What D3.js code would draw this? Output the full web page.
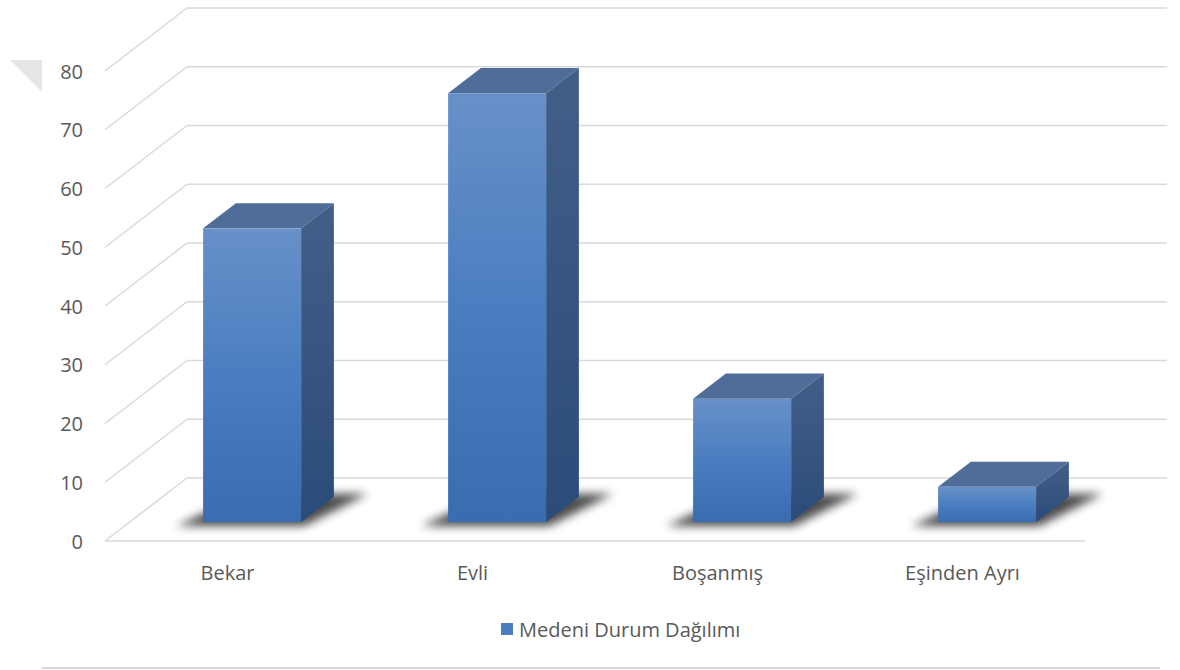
<!DOCTYPE html>
<html>
<head>
<meta charset="utf-8">
<script src="https://cdn.jsdelivr.net/npm/d3@7"></script>
<style>
  body { margin: 0; background: #fff; }
  svg { display: block; font-family: "Open Sans", sans-serif; }
</style>
</head>
<body>
<div class="chart"></div>
<script>
// ======================================
// data
// ======================================
var categories = ['Bekar', 'Evli', 'Boşanmış', 'Eşinden Ayrı'];
var values = [50, 73, 21, 6];
var yTicks = [0, 10, 20, 30, 40, 50, 60, 70, 80];
var seriesName = 'Medeni Durum Dağılımı';

// ======================================
// layout
// ======================================
var W = 1180, H = 670;
var DX = 82, DY = -63;   // depth offset of the floor (front -> back)

var svg = d3.select('.chart')
   .append('svg')
   .attr('width', W)
   .attr('height', H);

var x = d3.scaleBand().domain(categories).range([105, 1085]).paddingInner(0).paddingOuter(0);
var y = d3.scaleLinear().domain([0, 80]).range([541, 71]);

// project (x, value, depth 0..1) onto the screen
function proj(px, v, z) {
   return [px + z * DX, y(v) + z * DY];
}

var defs = svg.append('defs');

var gFront = defs.append('linearGradient').attr('id', 'gFront')
   .attr('x1', 0).attr('y1', 0).attr('x2', 0).attr('y2', 1);
gFront.append('stop').attr('offset', '0%').attr('stop-color', '#6890c8');
gFront.append('stop').attr('offset', '50%').attr('stop-color', '#4a7ec0');
gFront.append('stop').attr('offset', '100%').attr('stop-color', '#3a6cb0');

var gSide = defs.append('linearGradient').attr('id', 'gSide')
   .attr('x1', 0).attr('y1', 0).attr('x2', 0).attr('y2', 1);
gSide.append('stop').attr('offset', '0%').attr('stop-color', '#425f88');
gSide.append('stop').attr('offset', '100%').attr('stop-color', '#2b4b7a');

defs.append('filter').attr('id', 'blur')
   .attr('x', '-50%').attr('y', '-50%').attr('width', '200%').attr('height', '200%')
   .append('feGaussianBlur').attr('stdDeviation', 5);

// ======================================
// top-left corner mark and bottom border
// ======================================
svg.append('polygon')
   .attr('points', '10,60 42,60 42,92')
   .attr('fill', '#e6e6e6');

svg.append('line')
   .attr('x1', 42).attr('x2', 1160)
   .attr('y1', 668).attr('y2', 668)
   .attr('stroke', '#d9d9d9').attr('stroke-width', 2);

// ======================================
// walls: gridlines
// ======================================
var x0 = x.range()[0], x1 = x.range()[1];

var grid = svg.append('g').attr('stroke', '#d9d9d9').attr('stroke-width', 1.5).attr('fill', 'none');

grid.selectAll('.back')
   .data(yTicks)
   .enter()
   .append('line')
      .attr('x1', function(d){ return proj(x0, d, 1)[0]; })
      .attr('y1', function(d){ return proj(x0, d, 1)[1]; })
      .attr('x2', function(d){ return proj(x1, d, 1)[0]; })
      .attr('y2', function(d){ return proj(x1, d, 1)[1]; });

grid.selectAll('.side')
   .data(yTicks)
   .enter()
   .append('line')
      .attr('x1', function(d){ return proj(x0, d, 0)[0]; })
      .attr('y1', function(d){ return proj(x0, d, 0)[1]; })
      .attr('x2', function(d){ return proj(x0, d, 1)[0]; })
      .attr('y2', function(d){ return proj(x0, d, 1)[1]; });

// floor front edge
grid.append('line')
   .attr('x1', proj(x0, 0, 0)[0]).attr('y1', proj(x0, 0, 0)[1])
   .attr('x2', proj(x1, 0, 0)[0]).attr('y2', proj(x1, 0, 0)[1]);

// ======================================
// y axis labels
// ======================================
svg.append('g').selectAll('text')
   .data(yTicks)
   .enter()
   .append('text')
      .text(function(d){ return d; })
      .attr('x', 83)
      .attr('y', function(d){ return y(d); })
      .attr('dy', '0.38em')
      .attr('text-anchor', 'end')
      .attr('font-size', '20px')
      .attr('fill', '#595959');

// ======================================
// bars
// ======================================
var z0 = 0.3, z1 = 0.7, bw = 0.4;

function pts(a) {
   return a.map(function(p){ return p.join(','); }).join(' ');
}

var bars = svg.append('g').selectAll('g')
   .data(categories)
   .enter()
   .append('g');

bars.each(function(c, i){
   var g = d3.select(this);
   var v = values[i];
   var l = x(c) + x.bandwidth() * 0.3;
   var r = l + x.bandwidth() * bw;

   // blurred floor shadow
   g.append('polygon')
      .attr('points', pts([
         proj(l - 22, 0, z0 - 0.06), proj(r + 8, 0, z0 - 0.06),
         proj(r + 30, 0, z1 + 0.05), proj(l + 6, 0, z1 + 0.05)
      ]))
      .attr('fill', '#000')
      .attr('opacity', 0.7)
      .attr('filter', 'url(#blur)');

   // top face
   g.append('polygon')
      .attr('points', pts([proj(l, v, z0), proj(r, v, z0), proj(r, v, z1), proj(l, v, z1)]))
      .attr('fill', '#4f6d98');

   // side face
   g.append('polygon')
      .attr('points', pts([proj(r, v, z0), proj(r, v, z1), proj(r, 0, z1), proj(r, 0, z0)]))
      .attr('fill', 'url(#gSide)');

   // front face
   var tl = proj(l, v, z0), br = proj(r, 0, z0);
   g.append('rect')
      .attr('x', tl[0]).attr('y', tl[1])
      .attr('width', br[0] - tl[0])
      .attr('height', br[1] - tl[1])
      .attr('fill', 'url(#gFront)');
});

// ======================================
// category labels
// ======================================
svg.append('g').selectAll('text')
   .data(categories)
   .enter()
   .append('text')
      .text(function(d){ return d; })
      .attr('x', function(d){ return x(d) + x.bandwidth() / 2; })
      .attr('y', 580)
      .attr('text-anchor', 'middle')
      .attr('font-size', '20px')
      .attr('fill', '#595959');

// ======================================
// legend
// ======================================
var legend = svg.append('g').attr('transform', 'translate(501,623)');
legend.append('rect')
   .attr('width', 12).attr('height', 12)
   .attr('fill', '#4a7ec0');
legend.append('text')
   .text(seriesName)
   .attr('x', 18)
   .attr('y', 14)
   .attr('font-size', '20px')
   .attr('fill', '#595959');
</script>
</body>
</html>
